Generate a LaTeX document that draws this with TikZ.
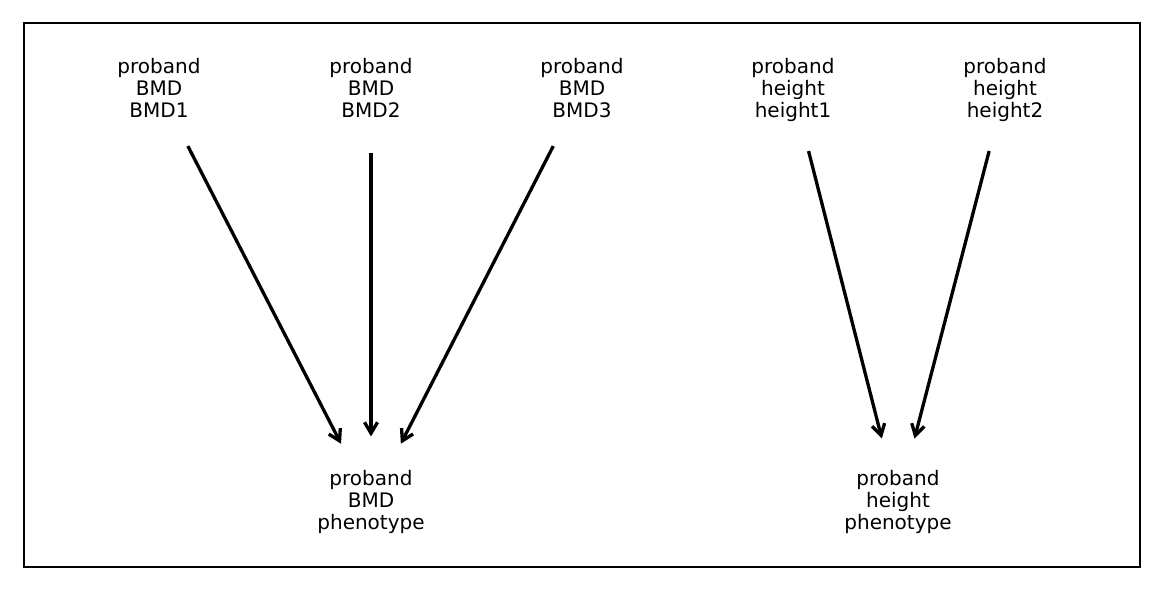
\documentclass[tikz,border=0pt]{standalone}
\usepackage{fontspec}
\setmainfont{DejaVu Sans}
\usetikzlibrary{arrows.meta}
\begin{document}
\begin{tikzpicture}[x=1pt,y=-1pt,
  lbl/.style={align=center,inner sep=0pt,font=\fontsize{20}{22}\selectfont},
  arr/.style={line width=3.3pt,-{Straight Barb[length=11pt,width=13pt,line width=3.3pt]},shorten <=63pt,shorten >=65.5pt}]
\useasboundingbox (0,0) rectangle (1164,591);
\draw[line width=2.4pt] (24,23) rectangle (1140,567);
\node[lbl] (b1) at (159,90) {proband\\BMD\\BMD1\vphantom{y}};
\node[lbl] (b2) at (371,90) {proband\\BMD\\BMD2\vphantom{y}};
\node[lbl] (b3) at (582,90) {proband\\BMD\\BMD3\vphantom{y}};
\node[lbl] (h1) at (793,90) {proband\\height\\height1\vphantom{y}};
\node[lbl] (h2) at (1005,90) {proband\\height\\height2\vphantom{y}};
\node[lbl] (pb) at (371,502) {proband\\BMD\\phenotype\vphantom{y}};
\node[lbl] (ph) at (898,502) {proband\\height\\phenotype\vphantom{y}};
\draw[arr] (b1.center) -- (pb.center);
\draw[arr] (b2.center) -- (pb.center);
\draw[arr] (b3.center) -- (pb.center);
\draw[arr] (h1.center) -- (ph.center);
\draw[arr] (h2.center) -- (ph.center);
\end{tikzpicture}
\end{document}
